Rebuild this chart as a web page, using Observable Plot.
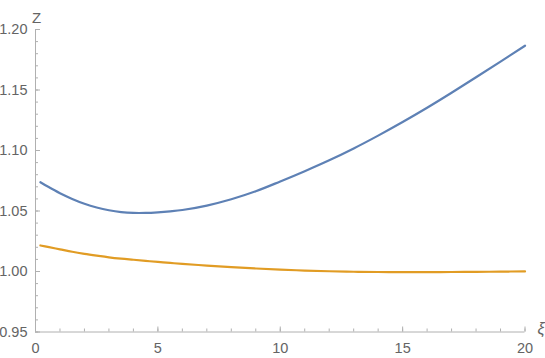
<!DOCTYPE html>
<html>
<head>
<meta charset="utf-8">
<script src="https://cdn.jsdelivr.net/npm/d3@7"></script>
<script src="https://cdn.jsdelivr.net/npm/@observablehq/plot@0.6"></script>
<style>
  body { margin: 0; background: #fff; }
  #chart { width: 545px; height: 358px; }
  #chart svg text { font-family: 'Liberation Sans', Arial, sans-serif; }
  #chart svg [aria-label$="tick label"] { font-size: 14.5px; }
</style>
</head>
<body>
<div id="chart"></div>
<script>
// ξ sample positions
const xi = [0.2, 0.5, 1, 1.5, 2, 2.5, 3, 3.5, 4, 4.5, 5, 5.5, 6, 7, 8, 9, 10, 11, 12, 13, 14, 15, 16, 17, 18, 19, 20];
// upper (blue) curve Z(ξ)
const zBlue = [1.0738, 1.0702, 1.0647, 1.0600, 1.0560, 1.0529, 1.0506, 1.0491, 1.0484, 1.0484, 1.0489, 1.0497, 1.0508, 1.0545, 1.0597, 1.0663, 1.0744, 1.0829, 1.0919, 1.1017, 1.1123, 1.1235, 1.1353, 1.1477, 1.1605, 1.1735, 1.1866];
// lower (orange) curve Z(ξ)
const zOrange = [1.0215, 1.0203, 1.0183, 1.0163, 1.0146, 1.0131, 1.0117, 1.0106, 1.0097, 1.0088, 1.0079, 1.0071, 1.0063, 1.0049, 1.0036, 1.0025, 1.0015, 1.0008, 1.0002, 0.9998, 0.9996, 0.9995, 0.9995, 0.9996, 0.9997, 0.9999, 1.0001];

const xMinorTicks = d3.range(0, 21, 1);
const xMajorTicks = [0, 5, 10, 15, 20];
const yMinorTicks = d3.range(95, 121, 1).map(d => d / 100);
const yMajorTicks = [0.95, 1.00, 1.05, 1.10, 1.15, 1.20];
const xLabel = "ξ";
const yLabel = "Z";

const blue = xi.map((x, i) => ({x, z: zBlue[i]}));
const orange = xi.map((x, i) => ({x, z: zOrange[i]}));

const axisGray = "#b0b0b0";
const textGray = "#646464";
const font = "'Liberation Sans', Arial, sans-serif";

const chart = Plot.plot({
  width: 545,
  height: 358,
  marginLeft: 35,
  marginRight: 20.5,
  marginTop: 29,
  marginBottom: 26.5,
  style: {fontFamily: font, fontSize: "14.5px", background: "#fff"},
  x: {domain: [0, 20]},
  y: {domain: [0.95, 1.20]},
  marks: [
    Plot.ruleY([0.95], {stroke: axisGray}),
    Plot.ruleX([0], {stroke: axisGray}),
    Plot.axisX(xMinorTicks, {tickSize: -3, tickFormat: () => "", stroke: axisGray, label: null}),
    Plot.axisX(xMajorTicks, {tickSize: -5, tickFormat: () => "", stroke: axisGray, label: null}),
    Plot.axisX(xMajorTicks, {tickSize: 0, tickPadding: 11, tickFormat: d => String(d), fill: textGray, stroke: "none", label: null, fontSize: 14.5, fontFamily: font}),
    Plot.axisY(yMinorTicks, {tickSize: -3, tickFormat: () => "", stroke: axisGray, label: null}),
    Plot.axisY(yMajorTicks, {tickSize: -5, tickFormat: () => "", stroke: axisGray, label: null}),
    Plot.axisY(yMajorTicks, {tickSize: 0, tickPadding: 8, tickFormat: d3.format(".2f"), fill: textGray, stroke: "none", label: null, fontSize: 14.5, fontFamily: font}),
    Plot.line(blue, {x: "x", y: "z", stroke: "#5E81B5", strokeWidth: 2.2, curve: "catmull-rom"}),
    Plot.line(orange, {x: "x", y: "z", stroke: "#E19C24", strokeWidth: 2.2, curve: "catmull-rom"}),
    Plot.text([yLabel], {frameAnchor: "top-left", text: d => d, dx: 1, dy: -17.5, textAnchor: "middle", fill: textGray, fontSize: 15, fontFamily: font}),
    Plot.text([xLabel], {frameAnchor: "bottom-right", text: d => d, dx: 16, dy: 2, textAnchor: "middle", fill: textGray, fontSize: 16, fontStyle: "italic", fontFamily: font})
  ]
});
document.getElementById("chart").appendChild(chart);
</script>
</body>
</html>
